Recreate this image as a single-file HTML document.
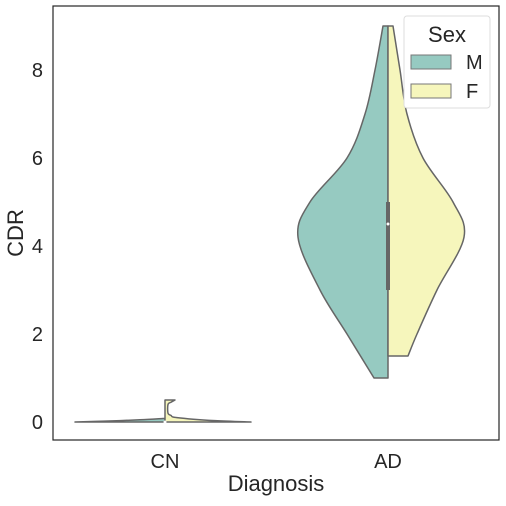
<!DOCTYPE html>
<html><head><meta charset="utf-8"><style>
body{margin:0;background:#fff;}
text{font-family:"Liberation Sans","DejaVu Sans",sans-serif;fill:#262626;}
</style></head><body>
<svg width="506" height="501">
<g id="plot"></g>
</svg>
<script>
const categories=["CN","AD"];
const yTicks=[0,2,4,6,8];
const cnMVals=[0,0.02,0.05,0.08];
const cnMWidth=[90,60,25,2];
const cnFVals=[0,0.03,0.1,0.15,0.2,0.4,0.45,0.5];
const cnFWidth=[86,50,12,6,3,3,6,10];
const adMVals=[1,2,3,4.2,5,6,7,8,9];
const adMWidth=[14,41,68,90,78,41,23,13,5];
const adFVals=[1.5,2,3,4.2,5,6,7,8,9];
const adFWidth=[20,29,49,76,65,35,19,12,5];
const adBox={q1:3,q3:5,med:4.5};
const cnBox={q1:0,q3:0,med:0};
const NS="http://www.w3.org/2000/svg";
const g=document.getElementById('plot');
const L=53,R=499,T=6,B=440;
const y=v=>422-44*v;
const xc=i=>165+223*i;
function mk(t,a,p){const e=document.createElementNS(NS,t);for(const k in a)e.setAttribute(k,a[k]);(p||g).appendChild(e);return e;}
function smooth(pts){let d=`M${pts[0][0]},${pts[0][1]}`;for(let i=0;i<pts.length-1;i++){const p0=pts[Math.max(0,i-1)],p1=pts[i],p2=pts[i+1],p3=pts[Math.min(pts.length-1,i+2)];const c1=[p1[0]+(p2[0]-p0[0])/6,p1[1]+(p2[1]-p0[1])/6],c2=[p2[0]-(p3[0]-p1[0])/6,p2[1]-(p3[1]-p1[1])/6];d+=` C${c1[0]},${c1[1]} ${c2[0]},${c2[1]} ${p2[0]},${p2[1]}`;}return d;}
function half(ci,vals,w,side,color,name){const cx=xc(ci);const pts=vals.map((v,i)=>[cx+side*w[i],y(v)]);
let d=`M${cx},${y(vals[0])} L`+smooth(pts).slice(1)+` L${cx},${y(vals[vals.length-1])} Z`;
const p=mk('path',{d:d,fill:color,stroke:'#666',"stroke-width":1.5,"stroke-linejoin":"round"});
}
const fr=mk('rect',{x:L,y:T,width:R-L,height:B-T,fill:'none',stroke:'#262626',"stroke-width":1.2});

half(0,cnMVals,cnMWidth,-1,'#96cac1','violin-cn-m');
half(0,cnFVals,cnFWidth,1,'#f6f6bc','violin-cn-f');
half(1,adMVals,adMWidth,-1,'#96cac1','violin-ad-m');
half(1,adFVals,adFWidth,1,'#f6f6bc','violin-ad-f');
[[0,cnBox],[1,adBox]].forEach(([i,b])=>{const cx=xc(i);
const r=mk('rect',{x:cx-2,y:y(b.q3),width:4,height:Math.max(0.5,y(b.q1)-y(b.q3)),fill:'#666'});

const c=mk('circle',{cx:cx,cy:y(b.med),r:1.5,fill:'#fff'});
});
yTicks.forEach(v=>{const t=mk('text',{x:L-10,y:y(v)+7,"text-anchor":"end","font-size":20});t.textContent=v;
});
categories.forEach((c,i)=>{const t=mk('text',{x:xc(i),y:468,"text-anchor":"middle","font-size":20});t.textContent=c;
});
const xt=mk('text',{x:276,y:491,"text-anchor":"middle","font-size":22});xt.textContent='Diagnosis';

const yt=mk('text',{x:23,y:233,"text-anchor":"middle","font-size":22,transform:'rotate(-90 23 233)'});yt.textContent='CDR';

const lg=mk('g',{});
mk('rect',{x:404,y:16,width:86,height:92,rx:3,fill:'#fff',stroke:'#ddd'},lg);
const lt=mk('text',{x:447,y:42,"text-anchor":"middle","font-size":22},lg);lt.textContent='Sex';
[['M','#96cac1',55],['F','#f6f6bc',84]].forEach(([n,c,yy])=>{
const e=mk('g',{},lg);
mk('rect',{x:411,y:yy,width:40,height:14,fill:c,stroke:'#777'},e);
const t=mk('text',{x:466,y:yy+14,"font-size":20},e);t.textContent=n;});
</script>
</body></html>
